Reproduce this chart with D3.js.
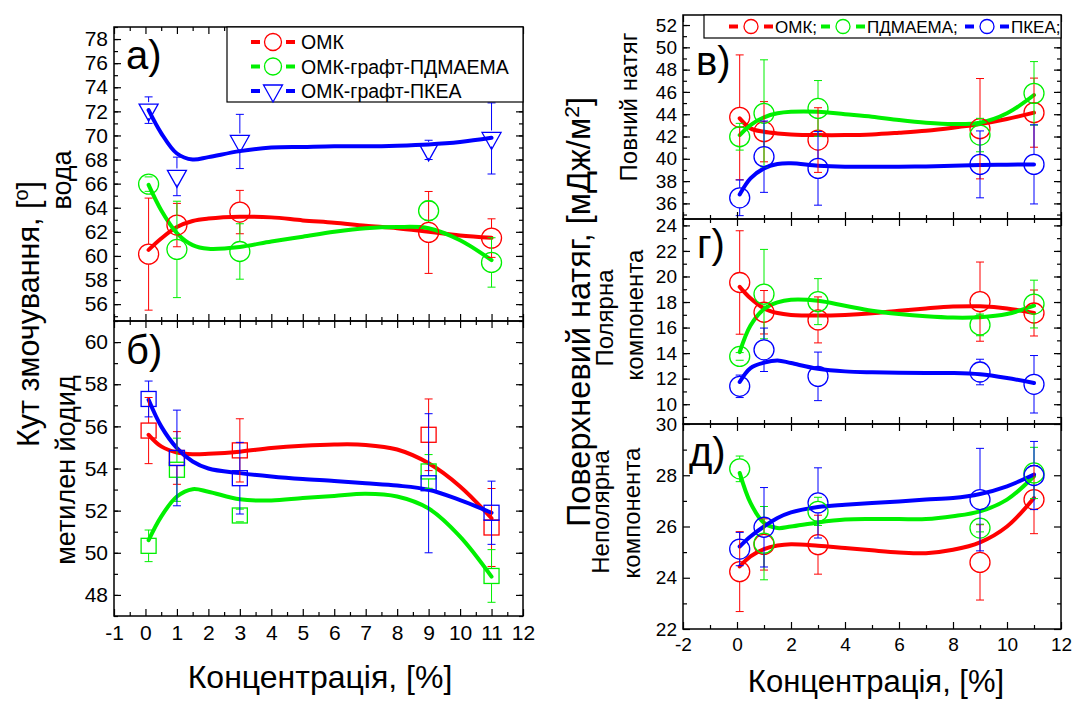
<!DOCTYPE html>
<html lang="uk">
<head>
<meta charset="UTF-8">
<title>Кут змочування та поверхневий натяг</title>
<script src="https://d3js.org/d3.v7.min.js"></script>
<style>
  body { margin: 0; background: #fff; }
  svg { display: block; font-family: "Liberation Sans", Arial, sans-serif; }
  .tick text { fill: #000; }
  .tick line { stroke: #000; stroke-width: 1.2; }
</style>
</head>
<body>
<div id="chart"></div>
<script>
// ---- data ----
const conc = [0.1, 1, 3, 9, 11];                     // measured concentrations, %
const fitX = [0.1, 0.5, 1, 1.5, 2, 3, 4, 5, 6, 7, 8, 9, 10, 11]; // where the fit curves were read

// а) water contact angle
const waterOMK = [60.15, 62.56, 63.64, 61.95, 61.48];
const waterOMKErr = [4.65, 1.8, 1.8, 3.4, 1.6];
const waterPDM = [65.96, 60.54, 60.37, 63.75, 59.46];
const waterPDMErr = [0.6, 4.0, 2.3, 0.8, 2.05];
const waterPKEA = [72.1, 66.6, 69.5, 68.8, 69.75];
const waterPKEAErr = [1.1, 1.6, 2.25, 0.8, 2.95];
const waterOMKFit = [60.5, 61.45, 62.4, 62.9, 63.1, 63.25, 63.2, 62.95, 62.75, 62.5, 62.3, 62.0, 61.7, 61.5];
const waterPDMFit = [65.9, 63.8, 61.9, 60.9, 60.6, 60.75, 61.2, 61.6, 62.0, 62.3, 62.4, 62.3, 61.3, 59.65];
const waterPKEAFit = [72.1, 70.2, 68.5, 68.0, 68.2, 68.7, 69.0, 69.05, 69.1, 69.1, 69.15, 69.25, 69.45, 69.8];

// б) methylene iodide contact angle
const miOMK = [55.8, 54.5, 54.86, 55.6, 51.2];
const miOMKErr = [1.57, 1.25, 1.5, 1.7, 1.85];
const miPDM = [50.33, 53.94, 51.77, 53.86, 48.9];
const miPDMErr = [0.75, 1.5, 0.3, 0.8, 1.25];
const miPKEA = [57.3, 54.5, 53.54, 53.3, 51.9];
const miPKEAErr = [0.85, 2.27, 1.7, 3.3, 1.5];
const miOMKFit = [55.6, 55.05, 54.76, 54.68, 54.7, 54.8, 54.97, 55.08, 55.14, 55.12, 54.9, 54.25, 53.15, 51.64];
const miPDMFit = [50.6, 51.72, 52.67, 53.02, 52.9, 52.54, 52.48, 52.6, 52.7, 52.8, 52.67, 52.1, 50.77, 48.87];
const miPKEAFit = [57.26, 56.0, 54.97, 54.33, 54.0, 53.78, 53.62, 53.5, 53.41, 53.3, 53.19, 52.99, 52.5, 51.9];

// в) total surface tension
const totOMK = [43.72, 42.43, 41.68, 42.7, 44.14];
const totOMKErr = [5.6, 2.7, 2.9, 4.5, 3.1];
const totPDM = [41.98, 44.08, 44.52, 42.13, 45.87];
const totPDMErr = [1.2, 4.8, 2.5, 1.5, 2.85];
const totPKEA = [36.5, 40.19, 39.14, 39.5, 39.5];
const totPKEAErr = [1.6, 3.2, 3.3, 3.0, 3.55];
const totOMKFit = [43.63, 42.73, 42.43, 42.28, 42.19, 42.13, 42.13, 42.19, 42.34, 42.52, 42.79, 43.12, 43.57, 44.14];
const totPDMFit = [42.13, 43.03, 43.72, 44.08, 44.22, 44.22, 44.0, 43.78, 43.48, 43.24, 43.12, 43.24, 44.08, 45.72];
const totPKEAFit = [36.8, 38.24, 39.14, 39.53, 39.59, 39.38, 39.29, 39.29, 39.29, 39.32, 39.38, 39.44, 39.47, 39.5];

// г) polar component
const polOMK = [19.53, 17.2, 16.6, 18.03, 17.14];
const polOMKErr = [4.05, 1.7, 1.8, 3.1, 1.8];
const polPDM = [13.74, 18.62, 18.03, 16.21, 17.84];
const polPDMErr = [0.3, 3.5, 1.8, 0.85, 1.87];
const polPKEA = [11.4, 14.26, 12.18, 12.52, 11.56];
const polPKEAErr = [0.88, 1.7, 1.9, 1.0, 2.25];
const polOMKFit = [19.19, 18.29, 17.5, 17.14, 16.99, 16.94, 16.99, 17.12, 17.32, 17.5, 17.64, 17.66, 17.5, 17.14];
const polPDMFit = [14.08, 16.16, 17.45, 17.97, 18.18, 18.1, 17.71, 17.32, 17.06, 16.88, 16.78, 16.81, 17.06, 17.71];
const polPKEAFit = [11.74, 12.83, 13.25, 13.43, 13.22, 12.78, 12.57, 12.5, 12.47, 12.45, 12.44, 12.34, 12.05, 11.66];

// д) dispersive (non-polar) component
const disOMK = [24.24, 25.3, 25.29, 24.6, 27.05];
const disOMKErr = [1.56, 1.0, 1.15, 1.47, 1.33];
const disPDM = [28.25, 25.35, 26.59, 25.94, 28.09];
const disPDMErr = [0.5, 1.43, 0.55, 0.15, 1.0];
const disPKEA = [25.12, 25.97, 26.92, 27.05, 27.99];
const disPKEAErr = [0.65, 1.55, 1.37, 2.0, 1.33];
const disOMKFit = [24.44, 24.83, 25.12, 25.26, 25.31, 25.25, 25.16, 25.07, 24.99, 24.96, 25.09, 25.38, 26.0, 27.11];
const disPDMFit = [28.09, 26.92, 26.14, 25.94, 26.0, 26.16, 26.27, 26.29, 26.29, 26.29, 26.4, 26.59, 27.05, 27.96];
const disPKEAFit = [25.22, 25.61, 26.0, 26.33, 26.55, 26.76, 26.85, 26.92, 26.98, 27.05, 27.11, 27.27, 27.57, 28.03];

const leftLegend = ["ОМК", "ОМК-графт-ПДМАЕМА", "ОМК-графт-ПКЕА"];
const rightLegend = ["ОМК;", "ПДМАЕМА;", "ПКЕА;"];

const RED = "#ff0000", GREEN = "#00f000", BLUE = "#0000ff";
const FONT = '"Liberation Sans", Arial, sans-serif';

const svg = d3.select("#chart").append("svg")
    .attr("width", 1091).attr("height", 702);

// marker shapes
function drawMarker(g, shape, cx, cy, color) {
    if (shape === "circle") {
        g.append("circle").attr("cx", cx).attr("cy", cy).attr("r", 10)
            .attr("fill", "none").attr("stroke", color).attr("stroke-width", 1.3);
    } else if (shape === "square") {
        g.append("rect").attr("x", cx - 7.5).attr("y", cy - 7.5)
            .attr("width", 15).attr("height", 15)
            .attr("fill", "none").attr("stroke", color).attr("stroke-width", 1.3);
    } else {
        // downward triangle
        g.append("path")
            .attr("d", `M${cx - 9.5},${cy - 6}L${cx + 9.5},${cy - 6}L${cx},${cy + 11}Z`)
            .attr("fill", "none").attr("stroke", color).attr("stroke-width", 1.3);
    }
}
const markerHalf = { circle: 10, square: 7.5, triangle: 8 };

function range(a, b, step) {
    return d3.range(a, b + 1e-9, step);
}
const plain = d => (d < 0 ? "-" + (-d) : String(d));   // hyphen minus like the original

function drawPanel(p) {
    const x = d3.scaleLinear().domain(p.xDomain).range([p.left, p.right]);
    const y = d3.scaleLinear().domain(p.yDomain).range([p.bottom, p.top]);
    const g = svg.append("g");

    // fit curves
    const line = d3.line()
        .x((d, i) => x(fitX[i]))
        .y(d => y(d))
        .curve(d3.curveCatmullRom.alpha(0.5));
    p.series.forEach(s => {
        g.append("path").datum(s.fit)
            .attr("fill", "none").attr("stroke", s.color)
            .attr("stroke-width", 4).attr("stroke-linecap", "round")
            .attr("d", line);
    });

    // error bars and markers
    p.series.forEach(s => {
        const h = markerHalf[s.shape];
        s.vals.forEach((v, i) => {
            const cx = x(conc[i]), cy = y(v);
            const yt = y(v + s.errs[i]), yb = y(v - s.errs[i]);
            const eb = g.append("g").attr("stroke", s.color).attr("stroke-width", 1);
            if (cy - h > yt) eb.append("line").attr("x1", cx).attr("x2", cx).attr("y1", yt).attr("y2", cy - h);
            if (cy + h < yb) eb.append("line").attr("x1", cx).attr("x2", cx).attr("y1", cy + h).attr("y2", yb);
            eb.append("line").attr("x1", cx - 4).attr("x2", cx + 4).attr("y1", yt).attr("y2", yt);
            eb.append("line").attr("x1", cx - 4).attr("x2", cx + 4).attr("y1", yb).attr("y2", yb);
            drawMarker(g, s.shape, cx, cy, s.color);
        });
    });

    // axes, ticks pointing inwards on all four sides
    const ax = (axis, tx, ty, vals, size, labels, pad) => {
        const a = g.append("g").attr("transform", `translate(${tx},${ty})`)
            .call(axis.tickValues(vals).tickSize(-size).tickSizeOuter(0).tickPadding(pad || 6)
                .tickFormat(labels ? plain : ""));
        a.select(".domain").remove();
        a.selectAll("text").style("font-size", p.fs + "px").style("font-family", FONT);
        return a;
    };
    ax(d3.axisLeft(y), p.left, 0, p.yMajor, 7, true);
    ax(d3.axisLeft(y), p.left, 0, p.yMinor, 4, false);
    ax(d3.axisRight(y), p.right, 0, p.yMajor, 7, false);
    ax(d3.axisRight(y), p.right, 0, p.yMinor, 4, false);
    ax(d3.axisTop(x), 0, p.top, p.xMajor, 7, false);
    ax(d3.axisTop(x), 0, p.top, p.xMinor, 4, false);
    ax(d3.axisBottom(x), 0, p.bottom, p.xMajor, 7, p.showX, 9);
    ax(d3.axisBottom(x), 0, p.bottom, p.xMinor, 4, false);

    g.append("rect")
        .attr("x", p.left).attr("y", p.top)
        .attr("width", p.right - p.left).attr("height", p.bottom - p.top)
        .attr("fill", "none").attr("stroke", "#000").attr("stroke-width", 1.5);

    g.append("text")
        .attr("x", p.left + p.letterDx).attr("y", p.top + p.letterDy)
        .style("font-size", "40px").style("font-family", FONT)
        .text(p.letter);
    return { x, y, g };
}

// ---- left column ----
const L = { left: 114, right: 523 };
const leftX = { xDomain: [-1, 12], xMajor: range(-1, 12, 1), xMinor: range(-0.5, 11.5, 1), fs: 21 };

drawPanel(Object.assign({}, L, leftX, {
    top: 27, bottom: 321, yDomain: [54.6, 79],
    yMajor: range(56, 78, 2), yMinor: range(55, 79, 1),
    showX: false, letter: "а)", letterDx: 12, letterDy: 42,
    series: [
        { vals: waterOMK, errs: waterOMKErr, fit: waterOMKFit, color: RED, shape: "circle" },
        { vals: waterPDM, errs: waterPDMErr, fit: waterPDMFit, color: GREEN, shape: "circle" },
        { vals: waterPKEA, errs: waterPKEAErr, fit: waterPKEAFit, color: BLUE, shape: "triangle" }
    ]
}));

drawPanel(Object.assign({}, L, leftX, {
    top: 321, bottom: 616, yDomain: [47, 61],
    yMajor: range(48, 60, 2), yMinor: range(47, 61, 1),
    showX: true, letter: "б)", letterDx: 12, letterDy: 43,
    series: [
        { vals: miOMK, errs: miOMKErr, fit: miOMKFit, color: RED, shape: "square" },
        { vals: miPDM, errs: miPDMErr, fit: miPDMFit, color: GREEN, shape: "square" },
        { vals: miPKEA, errs: miPKEAErr, fit: miPKEAFit, color: BLUE, shape: "square" }
    ]
}));

// ---- right column ----
const R = { left: 683, right: 1061, xDomain: [-2, 12], xMajor: range(-2, 12, 2), xMinor: range(-1, 11, 2), fs: 19 };

drawPanel(Object.assign({}, R, {
    top: 15, bottom: 219, yDomain: [34.6, 52.9],
    yMajor: range(36, 52, 2), yMinor: range(35, 52, 1),
    showX: false, letter: "в)", letterDx: 13, letterDy: 60,
    series: [
        { vals: totOMK, errs: totOMKErr, fit: totOMKFit, color: RED, shape: "circle" },
        { vals: totPDM, errs: totPDMErr, fit: totPDMFit, color: GREEN, shape: "circle" },
        { vals: totPKEA, errs: totPKEAErr, fit: totPKEAFit, color: BLUE, shape: "circle" }
    ]
}));

drawPanel(Object.assign({}, R, {
    top: 219, bottom: 424, yDomain: [8.45, 24.5],
    yMajor: range(10, 24, 2), yMinor: range(9, 24, 1),
    showX: false, letter: "г)", letterDx: 14, letterDy: 39,
    series: [
        { vals: polOMK, errs: polOMKErr, fit: polOMKFit, color: RED, shape: "circle" },
        { vals: polPDM, errs: polPDMErr, fit: polPDMFit, color: GREEN, shape: "circle" },
        { vals: polPKEA, errs: polPKEAErr, fit: polPKEAFit, color: BLUE, shape: "circle" }
    ]
}));

drawPanel(Object.assign({}, R, {
    top: 424, bottom: 629, yDomain: [22, 30],
    yMajor: range(22, 30, 2), yMinor: range(23, 29, 2),
    showX: true, letter: "д)", letterDx: 6, letterDy: 42,
    series: [
        { vals: disOMK, errs: disOMKErr, fit: disOMKFit, color: RED, shape: "circle" },
        { vals: disPDM, errs: disPDMErr, fit: disPDMFit, color: GREEN, shape: "circle" },
        { vals: disPKEA, errs: disPKEAErr, fit: disPKEAFit, color: BLUE, shape: "circle" }
    ]
}));

// ---- legends ----
function legendItem(g, cx, cy, color, shape, r) {
    g.append("line").attr("x1", cx - 22).attr("x2", cx - 13).attr("y1", cy).attr("y2", cy)
        .attr("stroke", color).attr("stroke-width", 4);
    g.append("line").attr("x1", cx + 13).attr("x2", cx + 22).attr("y1", cy).attr("y2", cy)
        .attr("stroke", color).attr("stroke-width", 4);
    if (shape === "circle") {
        g.append("circle").attr("cx", cx).attr("cy", cy).attr("r", r)
            .attr("fill", "#fff").attr("stroke", color).attr("stroke-width", 1.3);
    } else {
        g.append("path").attr("d", `M${cx - 9.5},${cy - 6}L${cx + 9.5},${cy - 6}L${cx},${cy + 11}Z`)
            .attr("fill", "#fff").attr("stroke", color).attr("stroke-width", 1.3);
    }
}

const lg = svg.append("g");
lg.append("rect").attr("x", 227).attr("y", 27).attr("width", 523 - 227).attr("height", 75)
    .attr("fill", "#fff").attr("stroke", "#000").attr("stroke-width", 1.2);
const leftColors = [RED, GREEN, BLUE], leftShapes = ["circle", "circle", "triangle"];
leftLegend.forEach((t, i) => {
    const cy = 42 + i * 24.5;
    legendItem(lg, 273, cy, leftColors[i], leftShapes[i], 8.5);
    lg.append("text").attr("x", 301).attr("y", cy).attr("dy", "0.36em")
        .style("font-size", "19.5px").style("font-family", FONT).text(t);
});

const rg = svg.append("g");
rg.append("rect").attr("x", 704).attr("y", 15).attr("width", 1061 - 704).attr("height", 23)
    .attr("fill", "#fff").attr("stroke", "#000").attr("stroke-width", 1.2);
const rightPos = [751, 843, 987];
rightLegend.forEach((t, i) => {
    legendItem(rg, rightPos[i], 26.5, leftColors[i], "circle", 7);
    rg.append("text").attr("x", rightPos[i] + 24).attr("y", 26.5).attr("dy", "0.36em")
        .style("font-size", "17px").style("font-family", FONT).text(t);
});

// ---- axis titles ----
function vtext(cx, cy, size, parts) {
    const t = svg.append("text")
        .attr("transform", `translate(${cx},${cy}) rotate(-90)`)
        .attr("text-anchor", "middle").attr("dy", "0.35em")
        .style("font-size", size + "px").style("font-family", FONT);
    parts.forEach(p => {
        const s = t.append("tspan").text(p.t);
        if (p.sup) s.attr("baseline-shift", "super").style("font-size", (size * 0.65) + "px");
    });
}
vtext(28, 314, 30.5, [{ t: "Кут змочування, [" }, { t: "o", sup: true }, { t: "]" }]);
vtext(62, 180, 27, [{ t: "вода" }]);
vtext(66, 470, 27, [{ t: "метилен йодид" }]);

vtext(579, 312, 32.5, [{ t: "Поверхневий натяг, [мДж/м" }, { t: "2", sup: true }, { t: "]" }]);
vtext(629, 107, 24, [{ t: "Повний натяг" }]);
vtext(605, 318, 24, [{ t: "Полярна" }]);
vtext(635, 315, 24, [{ t: "компонента" }]);
vtext(601, 512, 24, [{ t: "Неполярна" }]);
vtext(632, 513, 24, [{ t: "компонента" }]);

svg.append("text").attr("x", 320).attr("y", 688).attr("text-anchor", "middle")
    .style("font-size", "32px").style("font-family", FONT).text("Концентрація, [%]");
svg.append("text").attr("x", 876).attr("y", 692).attr("text-anchor", "middle")
    .style("font-size", "31px").style("font-family", FONT).text("Концентрація, [%]");
</script>
</body>
</html>
